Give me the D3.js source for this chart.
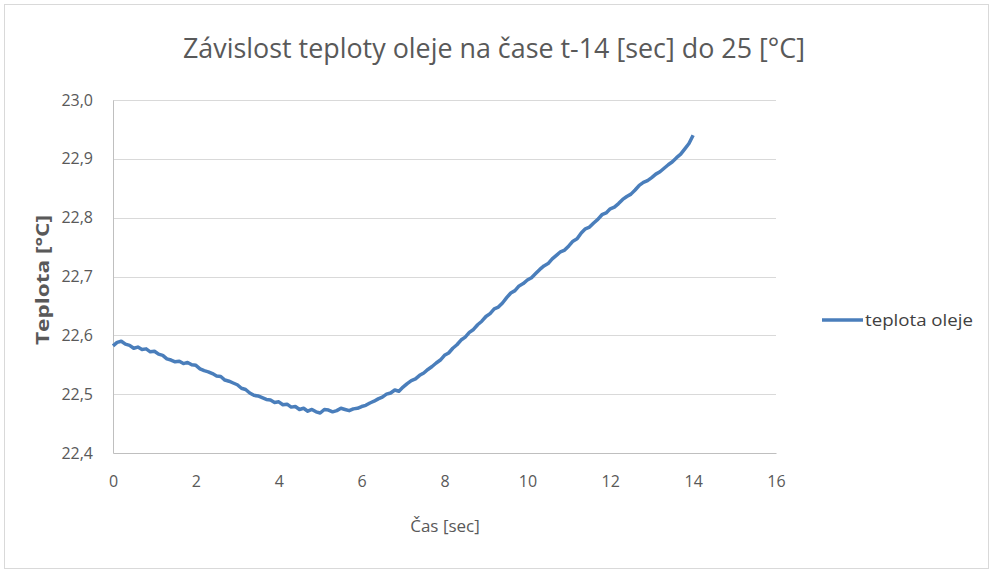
<!DOCTYPE html>
<html><head><meta charset="utf-8">
<script src="https://cdn.jsdelivr.net/npm/d3@7"></script>
<style>
html,body{margin:0;padding:0;background:#fff;}
svg text{font-family:"Open Sans",sans-serif;}
</style></head>
<body>
<svg id="c" width="993" height="573"></svg>
<script>
const title = "Závislost teploty oleje na čase t-14 [sec] do 25 [°C]";
const xTitle = "Čas [sec]";
const yTitle = "Teplota [°C]";
const seriesName = "teplota oleje";
const xTicks = [0,2,4,6,8,10,12,14,16];
const yTicks = [22.4,22.5,22.6,22.7,22.8,22.9,23.0];
const time = [0.0,0.1,0.2,0.3,0.4,0.5,0.6,0.7,0.8,0.9,1.0,1.1,1.2,1.3,1.4,1.5,1.6,1.7,1.8,1.9,
  2.0,2.1,2.2,2.3,2.4,2.5,2.6,2.7,2.8,2.9,3.0,3.1,3.2,3.3,3.4,3.5,3.6,3.7,3.8,3.9,
  4.0,4.1,4.2,4.3,4.4,4.5,4.6,4.7,4.8,4.9,5.0,5.1,5.2,5.3,5.4,5.5,5.6,5.7,5.8,5.9,
  6.0,6.1,6.2,6.3,6.4,6.5,6.6,6.7,6.8,6.9,7.0,7.1,7.2,7.3,7.4,7.5,7.6,7.7,7.8,7.9,
  8.0,8.1,8.2,8.3,8.4,8.5,8.6,8.7,8.8,8.9,9.0,9.1,9.2,9.3,9.4,9.5,9.6,9.7,9.8,9.9,
  10.0,10.1,10.2,10.3,10.4,10.5,10.6,10.7,10.8,10.9,11.0,11.1,11.2,11.3,11.4,11.5,11.6,11.7,11.8,11.9,
  12.0,12.1,12.2,12.3,12.4,12.5,12.6,12.7,12.8,12.9,13.0,13.1,13.2,13.3,13.4,13.5,13.6,13.7,13.8,13.9,14.0];
const temp = [22.582,22.588,22.590,22.585,22.583,22.578,22.580,22.576,22.577,22.572,
  22.573,22.568,22.566,22.560,22.558,22.555,22.556,22.552,22.554,22.550,
  22.549,22.543,22.540,22.538,22.535,22.531,22.530,22.524,22.522,22.519,
  22.516,22.510,22.508,22.502,22.498,22.497,22.494,22.491,22.490,22.486,
  22.487,22.482,22.483,22.478,22.479,22.474,22.476,22.471,22.474,22.470,
  22.468,22.474,22.473,22.470,22.472,22.476,22.474,22.472,22.475,22.476,
  22.479,22.481,22.485,22.488,22.492,22.495,22.500,22.502,22.507,22.505,
  22.512,22.518,22.523,22.526,22.532,22.536,22.542,22.547,22.553,22.558,
  22.566,22.570,22.578,22.584,22.592,22.597,22.605,22.610,22.618,22.624,
  22.632,22.637,22.645,22.648,22.655,22.664,22.672,22.676,22.684,22.688,
  22.694,22.698,22.705,22.712,22.718,22.722,22.730,22.736,22.742,22.745,
  22.752,22.760,22.764,22.774,22.781,22.784,22.791,22.797,22.805,22.808,
  22.815,22.818,22.824,22.831,22.836,22.840,22.847,22.855,22.860,22.863,
  22.868,22.874,22.878,22.884,22.890,22.895,22.902,22.908,22.917,22.926,22.940];

(function(){
const svg = d3.select("#c");
const pL = 113, pR = 776, pT = 100, pB = 453;
const x = d3.scaleLinear().domain([0,16]).range([pL,pR]);
const y = d3.scaleLinear().domain([22.4,23.0]).range([pB,pT]);

svg.append("rect").attr("x",4.5).attr("y",4.5).attr("width",984).attr("height",564)
  .attr("fill","#fff").attr("stroke","#d9d9d9").attr("stroke-width",1);

svg.append("g").selectAll("line").data(yTicks.slice(1)).join("line")
  .attr("x1",pL).attr("x2",pR).attr("y1",d=>Math.round(y(d))+0.5).attr("y2",d=>Math.round(y(d))+0.5)
  .attr("stroke","#d9d9d9").attr("stroke-width",1);

const yAxis = d3.axisLeft(y).tickValues(yTicks).tickSize(0).tickPadding(20)
  .tickFormat(d=>d3.format(".1f")(d).replace(".",","));
const gy = svg.append("g").attr("transform",`translate(${pL},0)`).call(yAxis);
gy.select(".domain").attr("stroke","#bfbfbf");
gy.selectAll("text").attr("fill","#595959").style("font-size","16px");

const xAxis = d3.axisBottom(x).tickValues(xTicks).tickSize(0).tickPadding(23);
const gx = svg.append("g").attr("transform",`translate(0,${pB})`).call(xAxis);
gx.select(".domain").attr("stroke","#bfbfbf");
gx.selectAll("text").attr("fill","#595959").style("font-size","16px");

const data = time.map((t,i)=>({t, v: temp[i]}));
svg.append("path").datum(data)
  .attr("fill","none").attr("stroke","#4a7ebb").attr("stroke-width",3.5)
  .attr("stroke-linejoin","round")
  .attr("d", d3.line().x(d=>x(d.t)).y(d=>y(d.v)));

svg.append("text").attr("x",494).attr("y",58).attr("text-anchor","middle")
  .attr("fill","#595959").style("font-size","28px")
  .attr("textLength",622).attr("lengthAdjust","spacingAndGlyphs").text(title);

svg.append("text").attr("x",445).attr("y",532).attr("text-anchor","middle")
  .attr("fill","#595959").style("font-size","17px").text(xTitle);
svg.append("text").attr("transform","translate(49,280) rotate(-90)").attr("text-anchor","middle")
  .attr("fill","#595959").style("font-size","18px").style("font-weight","bold")
  .attr("textLength",130).attr("lengthAdjust","spacingAndGlyphs").text(yTitle);

svg.append("line").attr("x1",822).attr("x2",863).attr("y1",320).attr("y2",320)
  .attr("stroke","#4a7ebb").attr("stroke-width",3.5);
svg.append("text").attr("x",865).attr("y",326).attr("fill","#404040")
  .style("font-size","17px").attr("textLength",108).attr("lengthAdjust","spacingAndGlyphs")
  .text(seriesName);
})();
</script>
</body></html>
